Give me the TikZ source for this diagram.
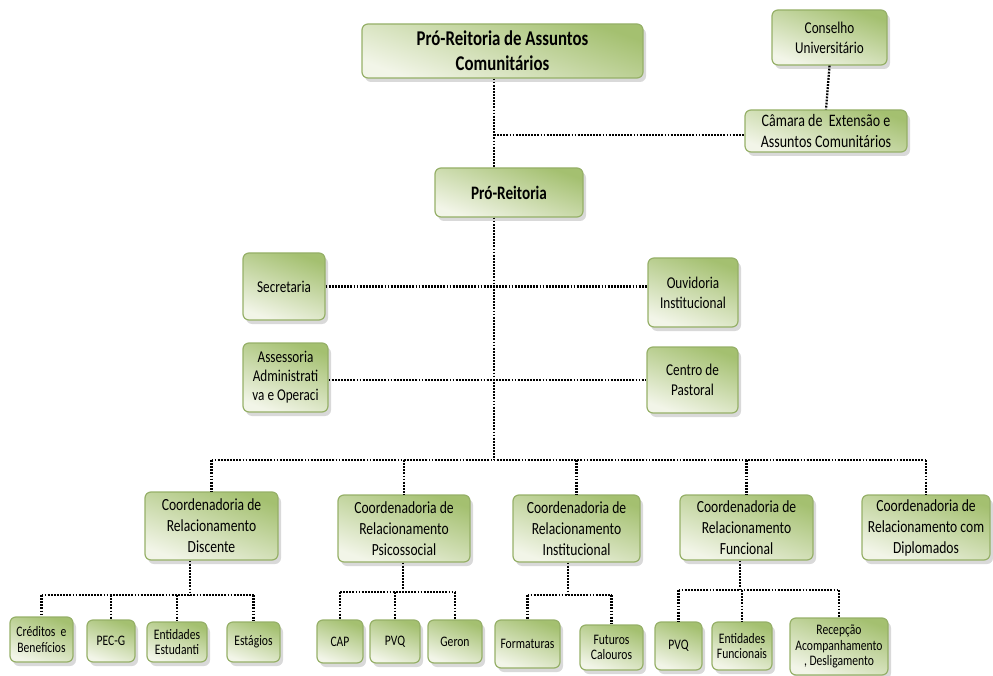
\documentclass[tikz,border=0pt]{standalone}
\usepackage{fontspec}
\setmainfont{Carlito}[FakeStretch=0.8]
\usepackage{tikz}
\usetikzlibrary{shadows}
\definecolor{boxdark}{RGB}{164,192,112}
\definecolor{boxlight}{RGB}{242,245,232}
\definecolor{boxedge}{RGB}{150,176,104}

\begin{document}
\begin{tikzpicture}[
  x=1pt, y=-1pt,
  box/.style={draw=boxedge, line width=1.2pt, rounded corners=6pt,
              top color=boxdark, bottom color=boxlight, shading angle=-20,
              align=center, inner sep=1pt,
              drop shadow={opacity=0.3, shadow xshift=3pt, shadow yshift=-4pt},
              font=\fontsize{16.5}{20}\selectfont},
  head/.style={box, font=\bfseries\fontsize{21}{25}\selectfont},
  coord/.style={box, font=\fontsize{17}{21}\selectfont},
  leaf/.style={box, font=\fontsize{14.5}{15.5}\selectfont},
  conn/.style={dash pattern=on 1.8pt off 1.3pt, line width=2.3pt}
]
  \useasboundingbox (0,0) rectangle (993,676);

  % top of the chart
  \node[head, minimum width=281pt, minimum height=54pt] (prac) at (502.5,51)
       {Pró-Reitoria de Assuntos\\Comunitários};
  \node[box, minimum width=115pt, minimum height=55pt] (conselho) at (829.5,37.5)
       {Conselho\\Universitário};
  \node[box, font=\fontsize{17.5}{21}\selectfont, minimum width=162pt,
        minimum height=42pt] (camara) at (826,131)
       {Câmara de \ Extensão e\\Assuntos Comunitários};
  \node[head, font=\bfseries\fontsize{19}{22}\selectfont, minimum width=148pt,
        minimum height=49pt] (pro) at (509,192.5) {Pró-Reitoria};

  % staff units
  \node[box, minimum width=82pt, minimum height=67pt] (sec) at (284,286.5) {Secretaria};
  \node[box, minimum width=90pt, minimum height=69pt] (ouv) at (693,292.5)
       {Ouvidoria\\Institucional};
  \node[box, font=\fontsize{16.5}{19}\selectfont, minimum width=85pt,
        minimum height=69pt] (assess) at (285.5,377.5)
       {Assessoria\\Administrati\\va e Operaci};
  \node[box, minimum width=91pt, minimum height=66pt] (pastoral) at (692.5,380)
       {Centro de\\Pastoral};

  % coordenadorias
  \node[coord, minimum width=133pt, minimum height=68pt] (disc) at (211.5,526)
       {Coordenadoria de\\Relacionamento\\Discente};
  \node[coord, minimum width=132pt, minimum height=67pt] (psico) at (404,528.5)
       {Coordenadoria de\\Relacionamento\\Psicossocial};
  \node[coord, minimum width=127pt, minimum height=67pt] (inst) at (576.5,528.5)
       {Coordenadoria de\\Relacionamento\\Institucional};
  \node[coord, minimum width=133pt, minimum height=65pt] (func) at (746.5,527.5)
       {Coordenadoria de\\Relacionamento\\Funcional};
  \node[coord, minimum width=128pt, minimum height=65pt] (dipl) at (926,527.5)
       {Coordenadoria de\\Relacionamento com\\Diplomados};

  % bottom row
  \node[leaf, minimum width=63pt, minimum height=45pt] (cred) at (41.5,639.5)
       {Créditos \ e\\Benefícios};
  \node[leaf, minimum width=48pt, minimum height=42pt] (pecg) at (111,641) {PEC-G};
  \node[leaf, minimum width=60pt, minimum height=40pt] (entest) at (177,642)
       {Entidades\\Estudanti};
  \node[leaf, minimum width=53pt, minimum height=40pt] (estag) at (253.5,642) {Estágios};
  \node[leaf, minimum width=46pt, minimum height=43pt] (cap) at (340,641.5) {CAP};
  \node[leaf, minimum width=50pt, minimum height=43pt] (pvqa) at (395,641.5) {PVQ};
  \node[leaf, minimum width=54pt, minimum height=43pt] (geron) at (455,641.5) {Geron};
  \node[leaf, minimum width=65pt, minimum height=48pt] (form) at (527.5,644) {Formaturas};
  \node[leaf, minimum width=63pt, minimum height=45pt] (futur) at (611.5,647.5)
       {Futuros\\Calouros};
  \node[leaf, minimum width=47pt, minimum height=48pt] (pvqb) at (678.5,646) {PVQ};
  \node[leaf, minimum width=60pt, minimum height=48pt] (entfun) at (742,646)
       {Entidades\\Funcionais};
  \node[leaf, minimum width=98pt, minimum height=57pt] (recep) at (839,646.5)
       {Recepção\\Acompanhamento\\, Desligamento};

  % junctions
  \coordinate (jcam) at (494,135);
  \coordinate (jmain) at (494,460);
  \coordinate (jdisc) at (190,595);
  \coordinate (jpsico) at (403,592);
  \coordinate (jinst) at (568,595);
  \coordinate (jfunc) at (740,590);

  \draw[conn] (prac.south -| jmain) -- (pro.north -| jmain);
  \draw[conn] (jcam) -- (camara.west |- jcam);
  \draw[conn] (conselho.south) -- (camara.north);
  \draw[conn] (pro.south -| jmain) -- (jmain);
  \draw[conn] (sec.east) -- (sec.east -| ouv.west);
  \draw[conn] (assess.east |- pastoral.west) -- (pastoral.west);

  \draw[conn] (disc.north |- jmain) -- (dipl.north |- jmain);
  \foreach \c in {disc,psico,inst,func,dipl}
    \draw[conn] (\c.north |- jmain) -- (\c.north);

  \draw[conn] (disc.south -| jdisc) -- (jdisc);
  \draw[conn] (cred.north |- jdisc) -- (estag.north |- jdisc);
  \foreach \c in {cred,pecg,entest,estag}
    \draw[conn] (\c.north |- jdisc) -- (\c.north);

  \draw[conn] (psico.south -| jpsico) -- (jpsico);
  \draw[conn] (cap.north |- jpsico) -- (geron.north |- jpsico);
  \foreach \c in {cap,pvqa,geron}
    \draw[conn] (\c.north |- jpsico) -- (\c.north);

  \draw[conn] (inst.south -| jinst) -- (jinst);
  \draw[conn] (form.north |- jinst) -- (futur.north |- jinst);
  \foreach \c in {form,futur}
    \draw[conn] (\c.north |- jinst) -- (\c.north);

  \draw[conn] (func.south -| jfunc) -- (jfunc);
  \draw[conn] (pvqb.north |- jfunc) -- (recep.north |- jfunc);
  \foreach \c in {pvqb,entfun,recep}
    \draw[conn] (\c.north |- jfunc) -- (\c.north);
\end{tikzpicture}
\end{document}
